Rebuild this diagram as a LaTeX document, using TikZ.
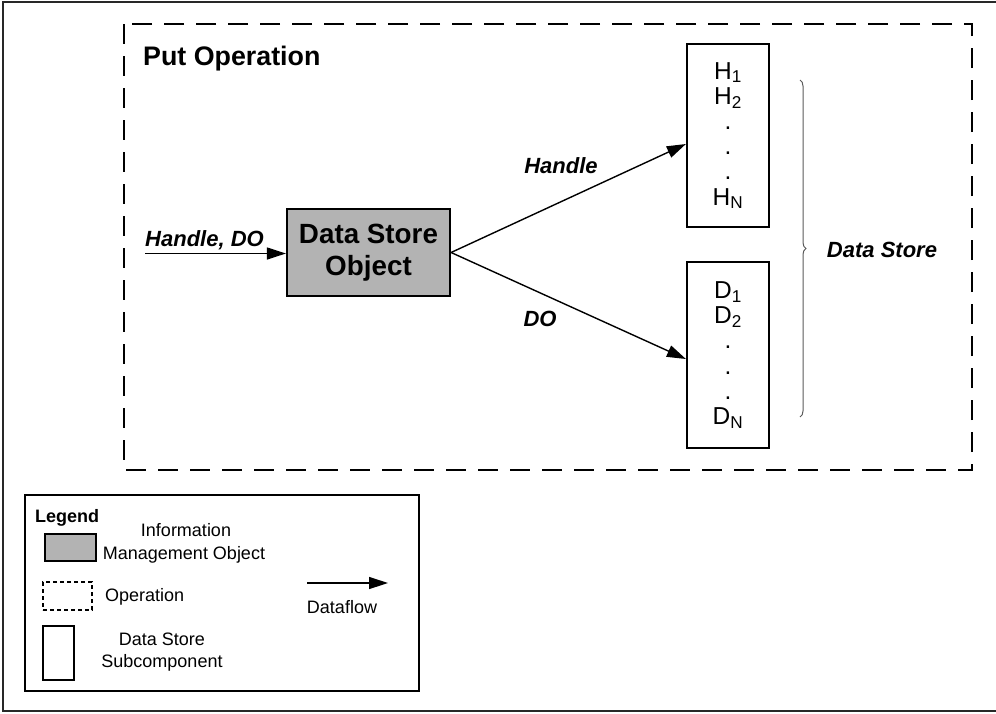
\documentclass[tikz,border=0pt]{standalone}
\usepackage{fontspec}
\setmainfont{Liberation Sans}
\usetikzlibrary{arrows.meta,decorations.pathreplacing}
\definecolor{imogray}{RGB}{179,179,179}
\definecolor{framegray}{RGB}{40,40,40}
\definecolor{bracegray}{RGB}{90,90,90}
\newcommand\fsz[2]{\fontsize{#1}{#2}\selectfont}

\begin{document}
\begin{tikzpicture}[x=1pt,y=-1pt,
  flow/.style={line width=1.4pt,-{Triangle[length=19pt,width=12pt]}},
  imo/.style={draw,line width=2.2pt,fill=imogray,align=center,inner sep=0pt},
  subcomp/.style={draw,line width=2.2pt,align=center,inner sep=0pt,font=\fsz{24.5}{25.2}},
  lbl/.style={inner sep=0pt,font=\fsz{22}{26}\bfseries\itshape},
  legtext/.style={inner sep=0pt,font=\fsz{18}{22}},
  opframe/.style={draw,line width=2.2pt,dash pattern=on 20pt off 12pt},
  keyop/.style={draw,line width=2pt,dash pattern=on 4pt off 3pt}
]
\useasboundingbox (0,0) rectangle (996,713);

% page frame (open on the right)
\draw[framegray,line width=1.5pt] (996,2) -- (3,2) -- (3,711) -- (996,711);

% put operation frame
\draw[opframe] (124,24) rectangle (972,470);
\node[anchor=base west,inner sep=0pt,font=\fsz{26.8}{30}\bfseries] (title) at (143,65) {Put Operation};

% data store object and subcomponents
\node[imo,minimum width=163pt,minimum height=87pt,font=\fsz{27.8}{32}\bfseries] (dso) at (368.5,252.5) {Data Store\\Object};
\node[subcomp,minimum width=82pt,minimum height=183pt] (hbox) at (728,135.5)
  {H\textsubscript{1}\\H\textsubscript{2}\\.\\.\\.\\H\textsubscript{N}};
\node[subcomp,minimum width=82pt,minimum height=186pt] (dbox) at (728,355)
  {D\textsubscript{1}\\D\textsubscript{2}\\.\\.\\.\\D\textsubscript{N}};

% dataflows
\coordinate (src) at (145,253.5);
\draw[flow] (src) -- (src -| dso.west);
\node[lbl,anchor=base west] (inlbl) at (145,246) {Handle, DO};
\draw[flow] (dso.east) -- ([yshift=-8.5pt]hbox.west);
\draw[flow] (dso.east) -- ([yshift=-4pt]dbox.west);
\node[lbl] (hlbl) at (561,166) {Handle};
\node[lbl] (dolbl) at (540,318.5) {DO};

% data store brace
\coordinate (bracetop) at (800,80);
\coordinate (bracebot) at (800,417);
\draw[bracegray,line width=1pt,decorate,decoration={brace,amplitude=6pt}] (bracetop) -- (bracebot);
\node[lbl] (dslbl) at (882,250) {Data Store};

% legend
\node[draw,line width=1.3pt,minimum width=394pt,minimum height=196pt,inner sep=0pt] (legend) at (222,593) {};
\node[anchor=base west,inner sep=0pt,font=\fsz{18}{22}\bfseries] (legtitle) at (35,522) {Legend};
\node[draw,fill=imogray,line width=2pt,minimum width=51pt,minimum height=27pt,inner sep=0pt] (keyimo) at (70.5,547.5) {};
\node[legtext,anchor=base] (keyimotxta) at (186,536) {Information};
\node[legtext,anchor=base] (keyimotxtb) at (184,559) {Management Object};
\node[keyop,minimum width=49pt,minimum height=28pt,inner sep=0pt] (keyopbox) at (67.5,596) {};
\node[legtext,anchor=base west] (keyoptxt) at (105,601) {Operation};
\node[draw,line width=2pt,minimum width=31pt,minimum height=54pt,inner sep=0pt] (keysub) at (58.5,653) {};
\node[legtext,anchor=base] (keysubtxta) at (162,645) {Data Store};
\node[legtext,anchor=base] (keysubtxtb) at (162,667) {Subcomponent};
\coordinate (keyflowa) at (307,583);
\coordinate (keyflowb) at (388,583);
\draw[flow] (keyflowa) -- (keyflowb);
\node[legtext,anchor=base] (keyflowtxt) at (342,613) {Dataflow};
\end{tikzpicture}
\end{document}
